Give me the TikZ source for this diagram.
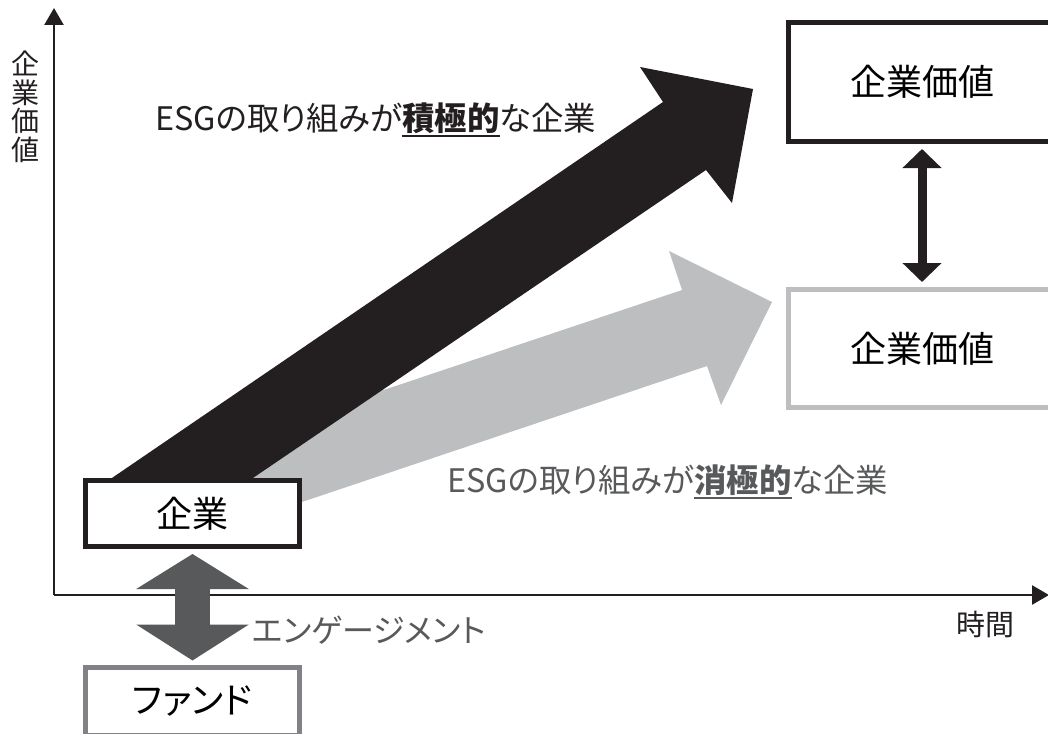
\documentclass[tikz,border=0pt]{standalone}
\usepackage{fontspec}
\setmainfont{Noto Sans CJK JP}[RawFeature=+palt]
\usetikzlibrary{arrows.meta}
\definecolor{niceblack}{RGB}{35, 31, 32}
\definecolor{nicegrayD}{RGB}{88, 89, 91}
\definecolor{nicegrayM}{RGB}{128, 130, 133}
\definecolor{nicegrayL}{RGB}{188, 190, 192}
\newcommand{\ulmark}[1]{\setbox0\hbox{\bfseries #1}\rlap{\vrule width\wd0 height -4pt depth 6pt}\box0}

\begin{document}
\begin{tikzpicture}[x = 1pt, y = -1pt,
			box/.style = {draw = niceblack, line width = 5pt, fill = white, inner sep = 0pt, font = \fontsize{36}{36}\selectfont},
			lbl/.style = {inner sep = 0pt, font = \fontsize{#1}{#1}\selectfont}]
			\useasboundingbox (0,0) rectangle (1048,733);
			\fill[nicegrayL] (290,506) -- (707,366) -- (721,405) -- (772,302) -- (669,251) -- (682,290) -- (330,408) -- (200,480) -- cycle;
			\fill[niceblack] (109,480) -- (663,102) -- (640,67) -- (753,89) -- (732,203) -- (706,170) -- (250,480) -- cycle;
			\node (firm) at (192.5,513.5) [box, minimum width = 214pt, minimum height = 66pt] {企業};
			\node (fund) at (192.5,701) [box, draw = nicegrayM, minimum width = 214pt, minimum height = 68pt] {ファンド};
			\node (vhigh) at (922,82) [box, minimum width = 268pt, minimum height = 119pt] {企業価値};
			\node (vlow) at (922,348.5) [box, draw = nicegrayL, minimum width = 268pt, minimum height = 118pt] {企業価値};
			\coordinate (o) at (54,595);
			\coordinate (ytop) at (54,8);
			\coordinate (xtop) at (1049,595);
			\draw[niceblack, line width = 2.5pt, -{Triangle[width = 19pt, length = 17pt]}] (o) -- (ytop);
			\draw[niceblack, line width = 2.5pt, -{Triangle[width = 19pt, length = 17pt]}] (o) -- (xtop);
			\draw[niceblack, line width = 9pt, {Triangle[width = 38pt, length = 19pt]}-{Triangle[width = 38pt, length = 19pt]}, shorten <= 5pt, shorten >= 5pt] (vhigh) -- (vlow);
			\draw[nicegrayD, line width = 35pt, {Triangle[width = 111pt, length = 35pt]}-{Triangle[width = 111pt, length = 36pt]}, shorten <= 5pt, shorten >= 4pt] (firm) -- (fund);
			\node (ylab) at (26,107) [lbl = 28, align = center, text = niceblack, font = \fontsize{28}{28.5}\selectfont] {企\\業\\価\\値};
			\node (xlab) at (985,624) [lbl = 29, text = niceblack] {時間};
			\node (eng) at (252,630) [lbl = 32, anchor = west, text = nicegrayD] {エンゲージメント};
			\node (pos) at (155,120) [lbl = 32.4, anchor = west, text = niceblack] {ESGの取り組みが\ulmark{積極的}な企業};
			\node (neg) at (447,482) [lbl = 32.4, anchor = west, text = nicegrayD] {ESGの取り組みが\ulmark{消極的}な企業};
			\end{tikzpicture}
\end{document}
